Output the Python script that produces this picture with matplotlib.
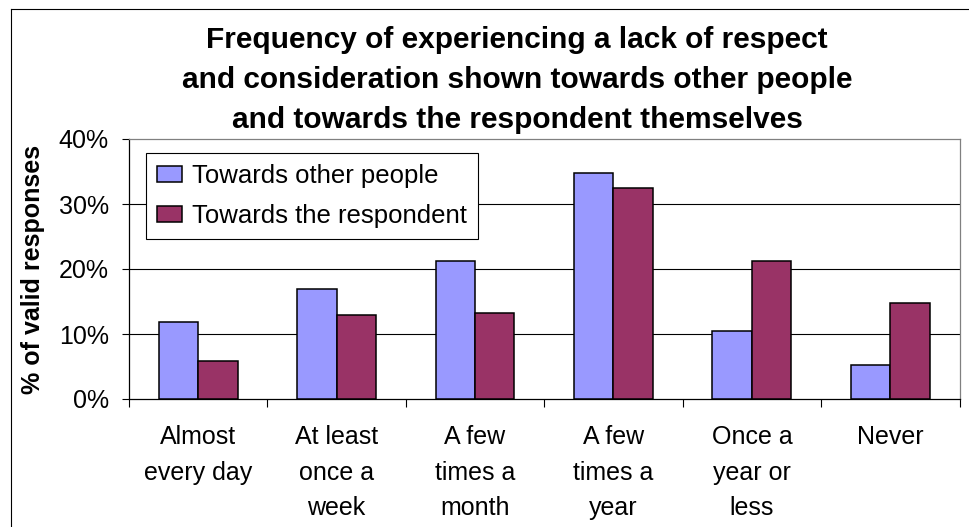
import numpy as np
import matplotlib
matplotlib.use('Agg')
import matplotlib.pyplot as plt
from matplotlib.lines import Line2D
from matplotlib.patches import Rectangle
from matplotlib.legend_handler import HandlerPatch

plt.rcParams['font.family'] = ['Liberation Sans', 'DejaVu Sans']

categories = ['Almost\nevery day', 'At least\nonce a\nweek', 'A few\ntimes a\nmonth',
              'A few\ntimes a\nyear', 'Once a\nyear or\nless', 'Never']
other_people = [11.8, 17.0, 21.3, 34.7, 10.5, 5.2]
respondent = [5.9, 13.0, 13.3, 32.5, 21.3, 14.8]
series_names = ['Towards other people', 'Towards the respondent']
colors = ['#9999FF', '#993366']
yticks = [0, 10, 20, 30, 40]

W, H = 969, 527
fig = plt.figure(figsize=(W / 100, H / 100), dpi=100)
ax = fig.add_axes([129 / W, 1 - 399 / H, (959.5 - 129) / W, (399 - 139) / H])

x = np.arange(len(categories))
bw = 0.285
ax.bar(x - bw / 2, other_people, bw, color=colors[0], edgecolor='black',
       linewidth=1.1, label=series_names[0], zorder=3)
ax.bar(x + bw / 2, respondent, bw, color=colors[1], edgecolor='black',
       linewidth=1.1, label=series_names[1], zorder=3)

ax.set_xlim(-0.5, len(categories) - 0.5)
ax.set_ylim(0, 40)
ax.set_yticks(yticks)
ax.set_yticklabels([f'{v}%' for v in yticks])
ax.set_xticks(x)
ax.set_xticklabels(categories, linespacing=1.6)
ax.set_xticks(np.arange(len(categories) + 1) - 0.5, minor=True)
ax.tick_params(axis='x', which='major', length=0, pad=19, labelsize=18)
ax.tick_params(axis='x', which='minor', length=6, width=0.8, color='black', direction='out')
ax.tick_params(axis='y', length=5, width=0.8, pad=9.6, labelsize=18)

for v in yticks[1:-1]:
    ax.axhline(v, color='black', linewidth=0.8, zorder=1)
ax.spines['top'].set_color('#808080')
ax.spines['right'].set_color('#808080')
ax.spines['left'].set_color('black')
ax.spines['bottom'].set_color('black')
for s in ax.spines.values():
    s.set_linewidth(0.9)


def square_right(legend, orig_handle, xdescent, ydescent, width, height, fontsize):
    s = 10.8
    return Rectangle((-xdescent + width - s, -ydescent + (height - s) / 2), s, s)


leg = ax.legend(loc='upper left', bbox_to_anchor=(146 / W, 1 - 153 / H),
                bbox_transform=fig.transFigure, borderaxespad=0,
                fontsize=18.5, frameon=True, fancybox=False, framealpha=1,
                edgecolor='black', borderpad=0.42, handlelength=0.98,
                handleheight=0.6, handletextpad=0.39, labelspacing=0.62,
                handler_map={Rectangle: HandlerPatch(patch_func=square_right)})
leg.get_frame().set_linewidth(0.8)
leg.set_zorder(5)

fig.text(517 / W, 1 - 26 / H,
         'Frequency of experiencing a lack of respect\n'
         'and consideration shown towards other people\n'
         'and towards the respondent themselves',
         ha='center', va='top', fontsize=21.5, fontweight='bold', linespacing=1.55)
fig.text(33 / W, 1 - 269 / H, '% of valid responses', rotation=90,
         ha='center', va='center', fontsize=18, fontweight='bold')

# chart area border (cut by image edge on right/bottom)
fig.add_artist(Line2D([10.5 / W, 10.5 / W], [0, 1 - 9 / H], color='black',
                      linewidth=0.8, transform=fig.transFigure))
fig.add_artist(Line2D([10.5 / W, 1], [1 - 9 / H, 1 - 9 / H], color='black',
                      linewidth=0.8, transform=fig.transFigure))

fig.savefig('out.png', dpi=100)
